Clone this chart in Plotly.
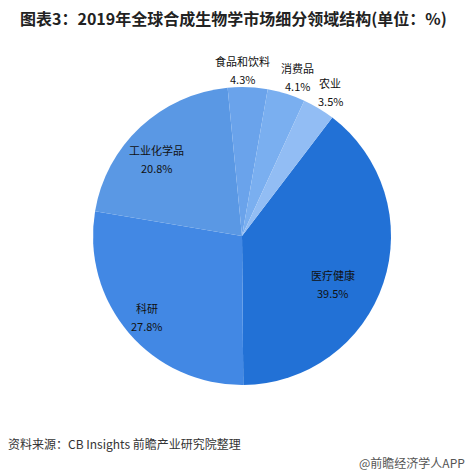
import math
import plotly.graph_objects as go

# ---- data ----
categories = ["医疗健康", "科研", "工业化学品", "食品和饮料", "消费品", "农业"]
values = [39.5, 27.8, 20.8, 4.3, 4.1, 3.5]
colors = ["#2271d6", "#4288e4", "#5a98e4", "#6aa3eb", "#7aaff0", "#92bdf4"]

title_text = "图表3：2019年全球合成生物学市场细分领域结构(单位：%)"
source_text = "资料来源：CB Insights 前瞻产业研究院整理"
watermark_text = "@前瞻经济学人APP"

# ---- layout parameters ----
W = H = 473
CX, CY, R = 242, 236, 149          # pie centre / radius in px
ROTATION = 37.3                    # start angle of first slice (clockwise from 12 o'clock)
# label placement style: (radius factor, angle offset in degrees)
label_style = [(0.69, 9.4), (0.84, 0.0), (0.77, -5.0), (1.114, -2.0), (1.13, 2.0), (1.136, 0.5)]

fig = go.Figure(go.Pie(
    labels=categories,
    values=values,
    sort=False,
    direction="clockwise",
    rotation=ROTATION,
    marker=dict(colors=colors, line=dict(width=0)),
    textinfo="none",
    hoverinfo="label+percent",
    showlegend=False,
    domain=dict(x=[(CX - R) / W, (CX + R) / W],
                y=[1 - (CY + R) / H, 1 - (CY - R) / H]),
))

label_font = dict(family="Noto Sans CJK SC", size=11, color="#111111")
annotations = []
total = sum(values)
cum = 0.0
for cat, v, (rf, dth) in zip(categories, values, label_style):
    mid = ROTATION + (cum + v / 2) / total * 360.0 + dth
    cum += v
    a = math.radians(mid)
    px = CX + rf * R * math.sin(a)
    py = CY - rf * R * math.cos(a)
    for txt, anchor in ((cat, "bottom"), (f"{v:.1f}%", "top")):
        annotations.append(dict(
            x=px / W, y=1 - py / H, xref="paper", yref="paper",
            text=txt, showarrow=False, font=label_font,
            xanchor="center", yanchor=anchor, borderpad=0,
        ))

annotations.append(dict(
    x=18 / W, y=1 - 18 / H, xref="paper", yref="paper", xanchor="left", yanchor="middle",
    text=f"<b>{title_text}</b>", showarrow=False,
    font=dict(family="Noto Sans CJK SC", size=16, color="#222222"),
))
annotations.append(dict(
    x=6 / W, y=1 - 443 / H, xref="paper", yref="paper", xanchor="left", yanchor="middle",
    text=source_text, showarrow=False,
    font=dict(family="Noto Sans CJK SC", size=12, color="#333333"),
))
annotations.append(dict(
    x=357 / W, y=1 - 462 / H, xref="paper", yref="paper", xanchor="left", yanchor="middle",
    text=watermark_text, showarrow=False,
    font=dict(family="Noto Sans CJK SC", size=12, color="#555555"),
))

fig.update_layout(
    width=W, height=H, autosize=False,
    margin=dict(l=0, r=0, t=0, b=0),
    paper_bgcolor="white", plot_bgcolor="white",
    annotations=annotations,
)

fig.write_html("out.html")
